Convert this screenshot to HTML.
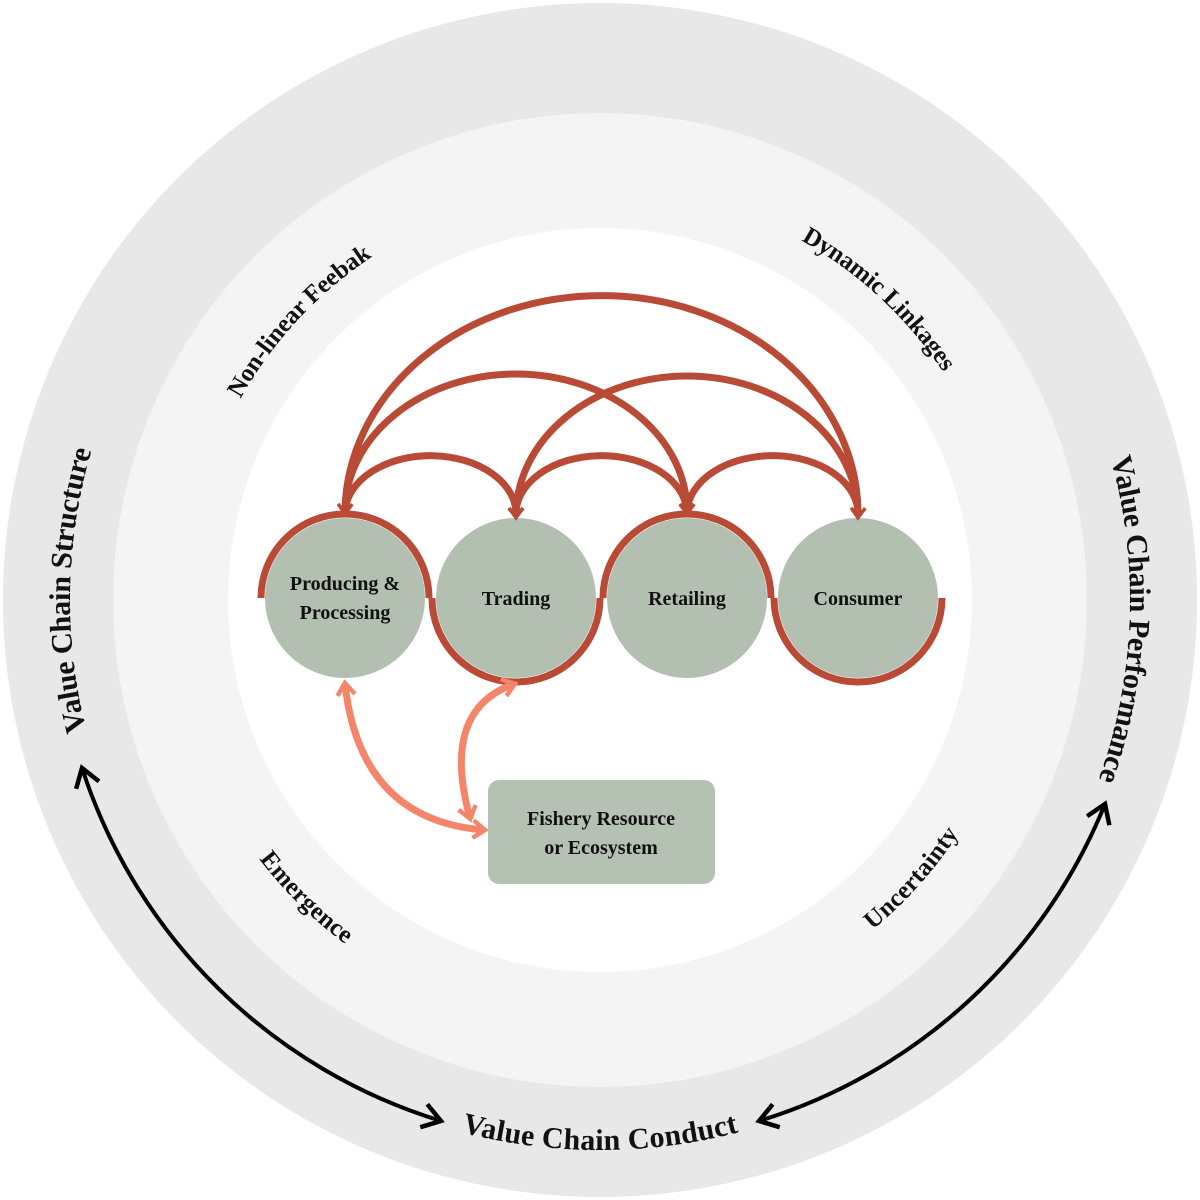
<!DOCTYPE html>
<html><head><meta charset="utf-8"><style>
html,body{margin:0;padding:0;background:#fff}
svg{display:block}
text{font-family:"Liberation Serif",serif;font-weight:bold;fill:#111}
</style></head><body>
<svg width="1200" height="1200" viewBox="0 0 1200 1200" xmlns="http://www.w3.org/2000/svg">
<defs>
<marker id="bk" viewBox="0 0 30 30" refX="26" refY="15" markerWidth="30" markerHeight="30" markerUnits="userSpaceOnUse" orient="auto-start-reverse" style="overflow:visible">
<path d="M8,3 L26,15 L8,27" fill="none" stroke="#000" stroke-width="4.5"/>
</marker>
<marker id="rd" viewBox="0 0 20 20" refX="10" refY="10" markerWidth="20" markerHeight="20" markerUnits="userSpaceOnUse" orient="auto-start-reverse">
<path d="M2,3 L12,10 L2,17" fill="none" stroke="#b94a35" stroke-width="3"/>
</marker>
<marker id="sa" viewBox="0 0 20 20" refX="12" refY="10" markerWidth="22" markerHeight="22" markerUnits="userSpaceOnUse" orient="auto-start-reverse">
<path d="M2,2 L13,10 L2,18" fill="none" stroke="#f4856b" stroke-width="4"/>
</marker>
<path id="cwO" d="M600,60 A540,540 0 1 1 600,1140 A540,540 0 1 1 600,60"/>
<path id="ccwO" d="M600,60 A540,540 0 1 0 600,1140 A540,540 0 1 0 600,60"/>
<path id="cwI" d="M600,180 A420,420 0 1 1 600,1020 A420,420 0 1 1 600,180"/>
<path id="ccwI" d="M600,180 A420,420 0 1 0 600,1020 A420,420 0 1 0 600,180"/>
</defs>
<circle cx="600" cy="600" r="597" fill="#e8e8e8"/>
<circle cx="600" cy="600" r="487" fill="#f4f4f4"/>
<circle cx="600" cy="600" r="372" fill="#ffffff"/>

<text font-size="30" dominant-baseline="central" text-anchor="middle"><textPath href="#cwO" startOffset="75.3%">Value Chain Structure</textPath></text>
<text font-size="30" dominant-baseline="central" text-anchor="middle"><textPath href="#cwO" startOffset="25.6%">Value Chain Performance</textPath></text>
<text font-size="30" dominant-baseline="central" text-anchor="middle"><textPath href="#ccwO" startOffset="50%">Value Chain Conduct</textPath></text>
<text font-size="25" dominant-baseline="central" text-anchor="middle"><textPath href="#cwI" startOffset="86.9%">Non-linear Feebak</textPath></text>
<text font-size="25" dominant-baseline="central" text-anchor="middle"><textPath href="#cwI" startOffset="11.9%">Dynamic Linkages</textPath></text>
<text font-size="25" dominant-baseline="central" text-anchor="middle"><textPath href="#ccwI" startOffset="37.6%">Emergence</textPath></text>
<text font-size="25" dominant-baseline="central" text-anchor="middle"><textPath href="#ccwI" startOffset="63.4%">Uncertainty</textPath></text>

<path d="M82,768 A545,545 0 0 0 441,1121" fill="none" stroke="#000" stroke-width="4" marker-start="url(#bk)" marker-end="url(#bk)"/>
<path d="M1105,804 A545,545 0 0 1 759,1121" fill="none" stroke="#000" stroke-width="4" marker-start="url(#bk)" marker-end="url(#bk)"/>

<g fill="#b3bfb0">
<circle cx="345" cy="598" r="80"/>
<circle cx="516" cy="598" r="80"/>
<circle cx="687" cy="598" r="80"/>
<circle cx="858" cy="598" r="80"/>
</g>
<g fill="none" stroke="#b94a35" stroke-width="7">
<path d="M261,598 A84,84 0 0 1 429,598"/>
<path d="M432,598 A84,84 0 0 0 600,598"/>
<path d="M603,598 A84,84 0 0 1 771,598"/>
<path d="M774,598 A84,84 0 0 0 942,598"/>
</g>
<g fill="none" stroke="#b94a35" stroke-width="7" marker-start="url(#rd)" marker-end="url(#rd)">
<path d="M345,512 A85,58 0 0 1 516,516"/>
<path d="M516,516 A85,58 0 0 1 687,512"/>
<path d="M687,512 A85,58 0 0 1 858,516"/>
<path d="M345,512 A171,138 0 0 1 687,512"/>
<path d="M516,516 A171,140 0 0 1 858,516"/>
<path d="M345,512 A256,218 0 0 1 858,516"/>
</g>

<g fill="none" stroke="#f4856b" stroke-width="7" marker-start="url(#sa)" marker-end="url(#sa)">
<path d="M345,684 Q360,820 484,830"/>
<path d="M514,684 Q440,710 470,818"/>
</g>

<rect x="488" y="780" width="227" height="104" rx="11" fill="#b5c1b2"/>

<g font-size="20" text-anchor="middle">
<text x="345" y="590">Producing &amp;</text>
<text x="345" y="619">Processing</text>
<text x="516" y="605">Trading</text>
<text x="687" y="605">Retailing</text>
<text x="858" y="605">Consumer</text>
<text x="601" y="825">Fishery Resource</text>
<text x="601" y="854">or Ecosystem</text>
</g>
</svg>
</body></html>
